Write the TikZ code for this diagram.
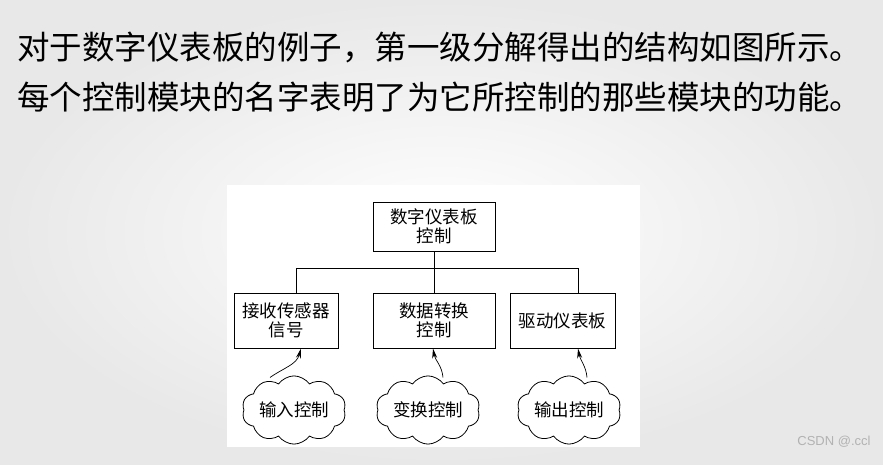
\documentclass[tikz,border=0pt]{standalone}
\usepackage{fontspec}
\setmainfont{Noto Sans CJK SC}
\newfontfamily\wmfont{Liberation Sans}
\usetikzlibrary{shapes.symbols,arrows.meta}

\tikzset{
    modbox/.style={draw, line width=0.9pt, align=center, inner sep=0pt, font=\fontsize{17.5}{19}\selectfont},
    cloudnode/.style={cloud, draw, line width=0.8pt, cloud puffs=10, cloud puff arc=110, aspect=1.8, inner sep=0pt, minimum width=104pt, minimum height=56pt, font=\fontsize{17.5}{19}\selectfont},
    ctrlarrow/.style={line width=0.7pt, -{Stealth[length=10pt,width=5pt]}}
}

\begin{document}
\begin{tikzpicture}[x=1pt,y=1pt]
    \useasboundingbox (0,0) rectangle (883,464);
    % Slide background
    \shade[inner color=white, outer color=black!9] (0,0) rectangle (883,464);
    \fill[white] (227,17) rectangle (640,279);  % white panel behind the diagram

    % Slide text
    \node[anchor=west, inner sep=0pt, font=\fontsize{32.5}{36}\selectfont] (lineOne) at (17,417) {对于数字仪表板的例子，第一级分解得出的结构如图所示。};
    \node[anchor=west, inner sep=0pt, font=\fontsize{32.5}{36}\selectfont] (lineTwo) at (17,367) {每个控制模块的名字表明了为它所控制的那些模块的功能。};

    % Module boxes
    \node[modbox, minimum width=122pt, minimum height=49pt] (top) at (434,237.5) {数字仪表板\\控制};
    \node[modbox, minimum width=104pt, minimum height=55pt] (recv) at (286,143.5) {接收传感器\\信号};
    \node[modbox, minimum width=122pt, minimum height=55pt] (conv) at (434,143.5) {数据转换\\控制};
    \node[modbox, minimum width=105pt, minimum height=55pt] (drive) at (562.5,143.5) {驱动仪表板};

    % Tree lines
    \coordinate (busL) at (296,196);
    \coordinate (busR) at (578,196);
    \draw[line width=0.8pt] (top.south) -- (conv.north);
    \draw[line width=0.8pt] (recv.north -| busL) -- (busL) -- (busR) -- (drive.north -| busR);

    % Control clouds
    \foreach \name/\cx/\label in {cloudIn/294/输入控制, cloudConv/428/变换控制, cloudOut/569/输出控制}
        \node[cloudnode] (\name) at (\cx,54) {\label};

    % Arrows from the clouds into the modules
    \draw[ctrlarrow] ([xshift=-24pt,yshift=-2pt]cloudIn.north) to[out=35,in=-105] ([xshift=15pt]recv.south);
    \draw[ctrlarrow] ([xshift=15pt,yshift=-2pt]cloudConv.north) to[out=95,in=-80] ([xshift=-1pt]conv.south);
    \draw[ctrlarrow] ([xshift=18pt,yshift=-2pt]cloudOut.north) to[out=95,in=-80] ([xshift=15.5pt]drive.south);

    % Watermark
    \node[text=black!30, font=\wmfont\fontsize{13}{15}\selectfont, inner sep=0pt] (mark) at (834,22) {CSDN @.ccl};
\end{tikzpicture}
\end{document}
